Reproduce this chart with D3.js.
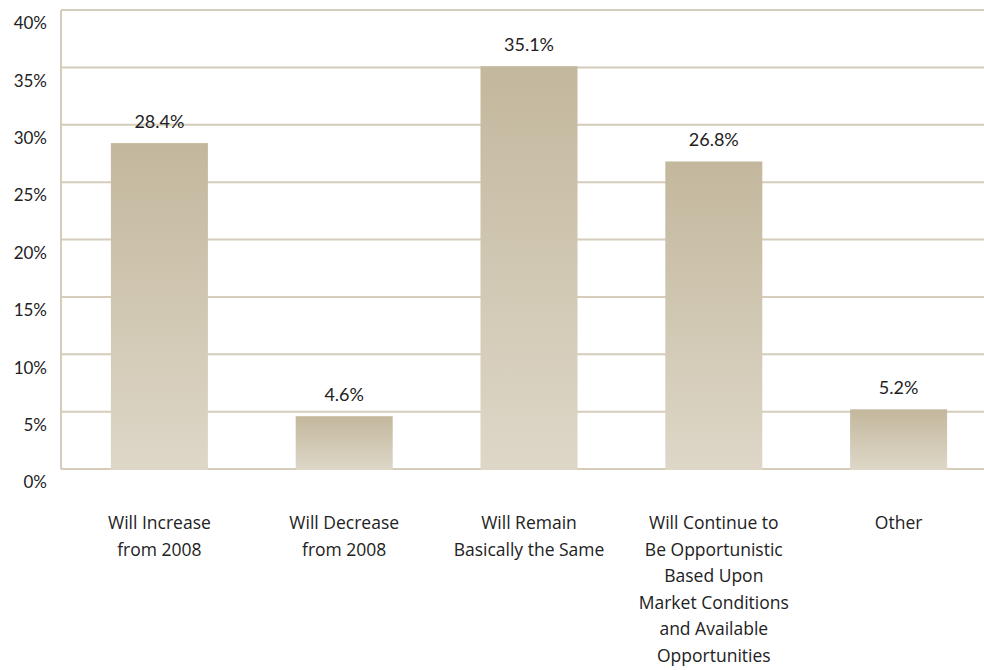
<!DOCTYPE html>
<html>
<head>
<meta charset="utf-8">
<script src="https://cdn.jsdelivr.net/npm/d3@7"></script>
<style>
  body { margin: 0; background: #fff; }
  text { font-family: "Lato", "Open Sans", sans-serif; fill: #222; }
  .cat { font-family: "Open Sans", "Lato", sans-serif; }
</style>
</head>
<body>
<div id="vis"></div>
<script>
// data
const categories = [
    ["Will Increase", "from 2008"],
    ["Will Decrease", "from 2008"],
    ["Will Remain", "Basically the Same"],
    ["Will Continue to", "Be Opportunistic", "Based Upon", "Market Conditions", "and Available", "Opportunities"],
    ["Other"]
];
const values = [28.4, 4.6, 35.1, 26.8, 5.2];
const yTicks = [0, 5, 10, 15, 20, 25, 30, 35, 40];

const width = 984;
const height = 670;

const svg = d3.select("#vis")
    .append("svg")
    .attr("width", width)
    .attr("height", height);

// gradient for the bars
const defs = svg.append("defs");
const grad = defs.append("linearGradient")
    .attr("id", "barGrad")
    .attr("x1", 0).attr("y1", 0)
    .attr("x2", 0).attr("y2", 1);
grad.append("stop").attr("offset", "0%").attr("stop-color", "#c3b89d");
grad.append("stop").attr("offset", "100%").attr("stop-color", "#ded7c8");

const plotLeft = 61;
const plotTop = 10;
const plotBottom = 469;

const x = d3.scaleBand()
    .domain(d3.range(categories.length))
    .range([67, 991])
    .paddingInner(0.475)
    .paddingOuter(0.2375);

const y = d3.scaleLinear()
    .domain([0, 40])
    .range([plotBottom, plotTop]);

// grid lines
svg.append("g")
    .selectAll("line")
    .data(yTicks)
    .enter()
    .append("line")
    .attr("x1", plotLeft)
    .attr("x2", width)
    .attr("y1", d => y(d))
    .attr("y2", d => y(d))
    .style("stroke", "#d5ccba")
    .style("stroke-width", 2);

// left axis line
svg.append("line")
    .attr("x1", plotLeft)
    .attr("x2", plotLeft)
    .attr("y1", plotTop)
    .attr("y2", plotBottom)
    .style("stroke", "#d5ccba")
    .style("stroke-width", 2);

// y labels (sit a bit under the grid lines)
svg.append("g")
    .selectAll("text")
    .data(yTicks)
    .enter()
    .append("text")
    .attr("x", 47)
    .attr("y", d => y(d) + 15)
    .attr("text-anchor", "end")
    .attr("dominant-baseline", "middle")
    .style("font-size", "17px")
    .text(d => d + "%");

// bars
svg.append("g")
    .selectAll("rect")
    .data(values)
    .enter()
    .append("rect")
    .attr("x", (d, i) => x(i))
    .attr("width", x.bandwidth())
    .attr("y", d => y(d))
    .attr("height", d => y(0) - y(d) + 1)
    .attr("fill", "url(#barGrad)");

// value labels
svg.append("g")
    .selectAll("text")
    .data(values)
    .enter()
    .append("text")
    .attr("x", (d, i) => x(i) + x.bandwidth() / 2)
    .attr("y", d => y(d) - 20)
    .attr("text-anchor", "middle")
    .attr("dominant-baseline", "middle")
    .style("font-size", "18px")
    .text(d => d.toFixed(1) + "%");

// category labels
const cats = svg.append("g")
    .selectAll("text")
    .data(categories)
    .enter()
    .append("text")
    .attr("class", "cat")
    .attr("x", (d, i) => x(i) + x.bandwidth() / 2)
    .attr("y", 524)
    .attr("text-anchor", "middle")
    .attr("dominant-baseline", "middle")
    .style("font-size", "17.5px");

cats.selectAll("tspan")
    .data(d => d)
    .enter()
    .append("tspan")
    .attr("x", function () { return d3.select(this.parentNode).attr("x"); })
    .attr("dy", (d, i) => i === 0 ? 0 : 26.6)
    .text(d => d);
</script>
</body>
</html>
